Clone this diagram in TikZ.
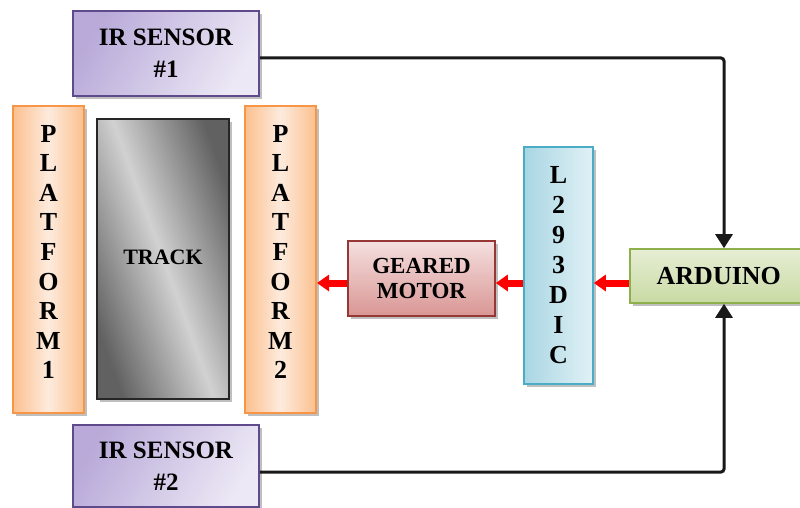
\documentclass[tikz,border=0pt]{standalone}
\usepackage{fontspec}
\setmainfont{Liberation Serif}
\usetikzlibrary{shadows,arrows.meta,calc}
\definecolor{irborder}{HTML}{5F4B8B}
\definecolor{irdark}{HTML}{B9AAD9}
\definecolor{irlight}{HTML}{ECE8F5}
\definecolor{plborder}{HTML}{F79646}
\definecolor{pldark}{HTML}{FBC08F}
\definecolor{pllight}{HTML}{FDEBDD}
\definecolor{gmborder}{HTML}{953735}
\definecolor{gmdark}{HTML}{D99694}
\definecolor{gmlight}{HTML}{F4E0DF}
\definecolor{icborder}{HTML}{4BACC6}
\definecolor{icdark}{HTML}{A9D6E3}
\definecolor{iclight}{HTML}{E1F1F6}
\definecolor{arborder}{HTML}{8DB04D}
\definecolor{ardark}{HTML}{C9DAA4}
\definecolor{arlight}{HTML}{E6EED4}
\definecolor{redarrow}{HTML}{FF0000}
\begin{document}
\begin{tikzpicture}[x=1pt,y=-1pt,
  blk/.style={draw, line width=1.6pt, inner sep=0pt, align=center,
    font=\bfseries\fontsize{25}{32}\selectfont,
    drop shadow={shadow xshift=3pt, shadow yshift=-3pt, fill=black!45, opacity=0.55}},
  irbox/.style={blk, draw=irborder, left color=irdark, right color=irlight, shading angle=60,
    minimum width=186pt, minimum height=85pt},
  platbox/.style={blk, draw=plborder, line width=2pt, left color=pldark, right color=pldark, middle color=pllight,
    minimum width=71pt, minimum height=307pt},
  vtext/.style={align=center, inner sep=0pt, font=\bfseries\fontsize{26}{29.6}\selectfont},
  trackbox/.style={blk, draw=black!85, left color=black!62, right color=black!62, middle color=black!18,
    shading angle=110, minimum width=132pt, minimum height=280pt},
  gmbox/.style={blk, draw=gmborder, top color=gmlight, bottom color=gmdark,
    minimum width=147pt, minimum height=75pt, font=\bfseries\fontsize{23}{25}\selectfont},
  icbox/.style={blk, draw=icborder, left color=icdark, right color=iclight,
    minimum width=69pt, minimum height=237pt, font=\bfseries\fontsize{26}{30}\selectfont},
  arbox/.style={blk, draw=arborder, top color=arlight, bottom color=ardark,
    minimum width=190pt, minimum height=54pt, font=\bfseries\fontsize{26}{30}\selectfont},
  sigline/.style={line width=3pt, black!90, rounded corners=3pt, -{Triangle[width=17pt,length=14pt]}},
  redline/.style={line width=7pt, redarrow, -{Triangle[width=16pt,length=12pt]}}
]
\clip (0,0) rectangle (800,508);
\fill[white] (0,0) rectangle (800,508);

\node[irbox] (ir1) at (166,53.5) {IR SENSOR\\\#1};
\node[platbox] (p1) at (48.5,259.5) {};
\node[vtext] (p1lbl) at (48.5,252) {P\\L\\A\\T\\F\\O\\R\\M\\1};
\node[trackbox] (track) at (163,259) {};
\node[font=\bfseries\fontsize{22}{26}\selectfont] (tracklbl) at (163,257) {TRACK};
\node[platbox] (p2) at (280.5,259.5) {};
\node[vtext] (p2lbl) at (280.5,252) {P\\L\\A\\T\\F\\O\\R\\M\\2};
\node[irbox, minimum height=82pt] (ir2) at (166,466) {IR SENSOR\\\#2};
\node[gmbox] (gm) at (421.5,278.5) {GEARED\\MOTOR};
\node[icbox] (ic) at (558.5,265.5) {L\\2\\9\\3\\D\\I\\C};
\node[arbox, anchor=west] (ard) at (629,276) {\hspace*{-12pt}ARDUINO};

\coordinate (ry) at (0,283);
\coordinate (bus) at (724,0);

\draw[redline] (ard.west |- ry) -- (ic.east |- ry);
\draw[redline] (ic.west |- ry) -- (gm.east |- ry);
\draw[redline] (gm.west |- ry) -- (p2.east |- ry);

\draw[sigline] (ir1.east |- 0,58) -| (bus |- ard.north);
\draw[sigline] (ir2.east |- 0,472) -| (bus |- ard.south);
\end{tikzpicture}
\end{document}
